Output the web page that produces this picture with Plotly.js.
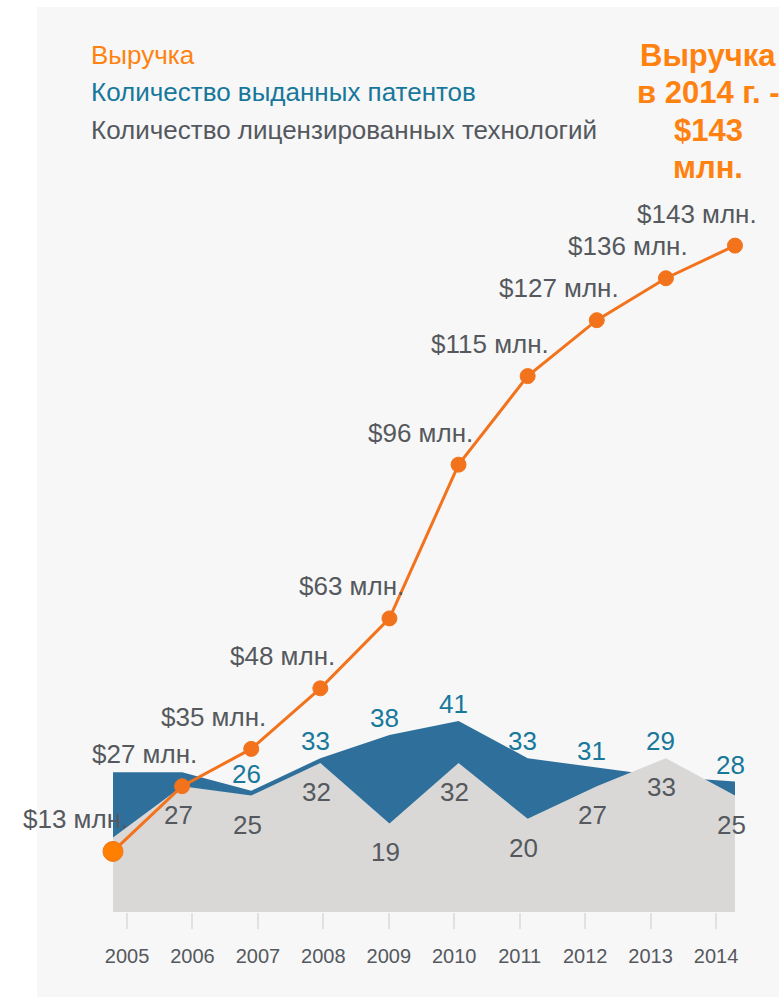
<!DOCTYPE html>
<html>
<head>
<meta charset="utf-8">
<script src="https://cdn.plot.ly/plotly-3.0.1.min.js"></script>
<style>
  html, body { margin:0; padding:0; background:#ffffff; width:779px; height:997px; overflow:hidden; }
  #chart { position:absolute; left:0; top:0; width:779px; height:997px; }
</style>
</head>
<body>
<div id="chart"></div>
<script>
// ---- data ----
const years = [2005, 2006, 2007, 2008, 2009, 2010, 2011, 2012, 2013, 2014];
const revenue = [13, 27, 35, 48, 63, 96, 115, 127, 136, 143];           // $ млн.
const patents = [30, 30, 26, 33, 38, 41, 33, 31, 29, 28];               // выданные патенты
const licensed = [16, 27, 25, 32, 19, 32, 20, 27, 33, 25];              // лицензированные технологии
const patentLabelShown = [false, false, true, true, true, true, true, true, true, true];
const licensedLabelShown = [false, true, true, true, true, true, true, true, true, true];
const legendNames = ['Выручка', 'Количество выданных патентов', 'Количество лицензированных технологий'];
const headlineLines = ['Выручка', 'в 2014 г. -', '$143', 'млн.'];

// ---- styles ----
const FONT = 'Liberation Sans, Arial, sans-serif';
const ORANGE = '#f2731c';
const ORANGE_TXT = '#ff8210';
const TEAL = '#17789c';
const BLUE_FILL = '#2e709b';
const GRAY_FILL = '#d9d8d7';
const DARK = '#55595e';
const LABEL_SIZE = 26;

const idx = years.map((y, i) => i);

const traces = [
  { x: idx, y: patents, type: 'scatter', mode: 'lines', fill: 'tozeroy',
    fillcolor: BLUE_FILL, line: { width: 0, color: BLUE_FILL }, hoverinfo: 'skip', showlegend: false },
  { x: idx, y: licensed, type: 'scatter', mode: 'lines', fill: 'tozeroy',
    fillcolor: GRAY_FILL, line: { width: 0, color: GRAY_FILL }, hoverinfo: 'skip', showlegend: false },
  { x: idx, y: revenue, type: 'scatter', mode: 'lines+markers', cliponaxis: false,
    line: { color: ORANGE, width: 3 },
    marker: { color: idx.map(i => i === 0 ? '#ff8000' : ORANGE), size: idx.map(i => i === 0 ? 20 : 15), opacity: 1 },
    hoverinfo: 'skip', showlegend: false },
  { x: years, y: years.map(() => null), xaxis: 'x2', type: 'scatter', mode: 'markers',
    hoverinfo: 'skip', showlegend: false }
];

const annotations = [];
revenue.forEach((v, i) => {
  annotations.push({ x: i, y: v, xref: 'x', yref: 'y', text: '$' + v + ' млн.', showarrow: false,
    xanchor: 'center', yanchor: 'middle', xshift: -38, yshift: 32,
    font: { family: FONT, size: LABEL_SIZE, color: DARK } });
});
patents.forEach((v, i) => {
  if (!patentLabelShown[i]) return;
  annotations.push({ x: i, y: Math.max(v, licensed[i]), xref: 'x', yref: 'y', text: String(v), showarrow: false,
    xanchor: 'center', yanchor: 'middle', xshift: -5, yshift: 17,
    font: { family: FONT, size: LABEL_SIZE, color: TEAL } });
});
licensed.forEach((v, i) => {
  if (!licensedLabelShown[i]) return;
  annotations.push({ x: i, y: v, xref: 'x', yref: 'y', text: String(v), showarrow: false,
    xanchor: 'center', yanchor: 'middle', xshift: -4, yshift: -29,
    font: { family: FONT, size: LABEL_SIZE, color: DARK } });
});
const legendColors = [ORANGE_TXT, TEAL, DARK];
const legendY = [1.226, 1.173, 1.119];
legendNames.forEach((n, k) => {
  annotations.push({ x: -0.0386, y: legendY[k], xref: 'paper', yref: 'paper', text: n, showarrow: false,
    xanchor: 'left', yanchor: 'middle', font: { family: FONT, size: LABEL_SIZE, color: legendColors[k] } });
});
const headlineY = [1.226, 1.1725, 1.118, 1.065];
headlineLines.forEach((t, k) => {
  annotations.push({ x: 0.9566, y: headlineY[k], xref: 'paper', yref: 'paper', text: t, showarrow: false,
    xanchor: 'center', yanchor: 'middle',
    font: { family: FONT, size: 31, color: ORANGE_TXT, weight: 'bold' } });
});

const layout = {
  width: 779, height: 997,
  margin: { l: 113, r: 44, t: 213, b: 85 },
  paper_bgcolor: '#ffffff', plot_bgcolor: 'rgba(0,0,0,0)',
  showlegend: false,
  shapes: [{ type: 'rect', xref: 'paper', yref: 'paper', x0: -0.1222, x1: 1.08, y0: -0.13, y1: 1.2947,
    fillcolor: '#f7f7f7', line: { width: 0 }, layer: 'below' }],
  xaxis: { range: [0, 9], visible: false, fixedrange: true },
  xaxis2: { overlaying: 'x', anchor: 'y', side: 'bottom', range: [2004.786, 2014.29],
    tickvals: years, ticktext: years.map(String), showgrid: false, zeroline: false, showline: false,
    ticks: 'outside', ticklen: 16, tickwidth: 2, tickcolor: '#e1e1e1', ticklabelstandoff: 10,
    tickfont: { family: FONT, size: 20, color: DARK } },
  yaxis: { range: [0, 150], visible: false, fixedrange: true },
  annotations: annotations
};

Plotly.newPlot('chart', traces, layout, { displayModeBar: false, staticPlot: true });
</script>
</body>
</html>
